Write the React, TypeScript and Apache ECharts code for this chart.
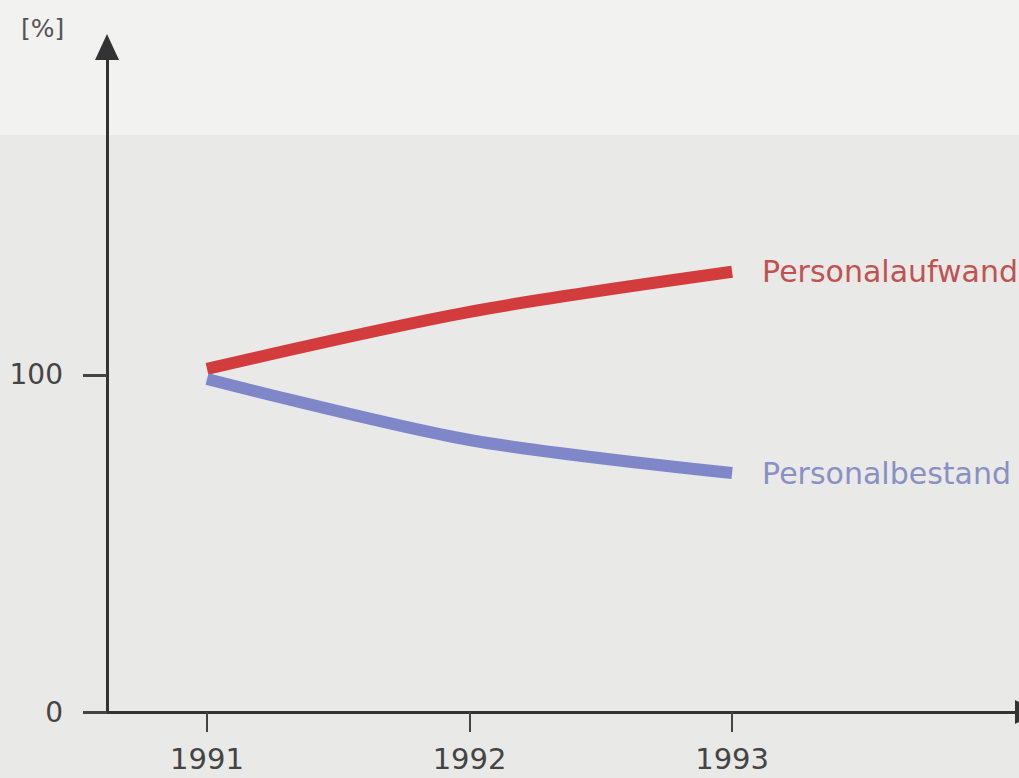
import React, { useEffect, useRef } from "react";
import * as echarts from "echarts";

const years = [1991, 1992, 1993];
const personalaufwand = [101.8, 118.7, 130.6];
const personalbestand = [98.8, 80.7, 70.9];
const yTickValues = [0, 100];
const seriesNames = ["Personalaufwand", "Personalbestand"];

export default function App() {
  const ref = useRef<HTMLDivElement>(null);
  useEffect(() => {
    if (!ref.current) return;
    const chart = echarts.init(ref.current, null, { renderer: "svg" });
    const font = "DejaVu Sans";
    chart.setOption({
      animation: false,
      backgroundColor: "#e9e9e7",
      graphic: [
        { type: "rect", left: 0, top: 0, shape: { width: 1040, height: 135 }, style: { fill: "#f2f2f0" }, z: -10 },
        { type: "text", left: 21, top: 16, style: { text: "[%]", fontSize: 25, fill: "#555", fontFamily: font } },
      ],
      grid: { left: 107, right: 0, top: 47, bottom: 66, containLabel: false },
      xAxis: {
        type: "value",
        min: 1990.619,
        max: 1994.127,
        splitLine: { show: false },
        axisLine: { show: true, lineStyle: { color: "#333", width: 3 }, symbol: ["none", "triangle"], symbolSize: [24, 26] },
        axisTick: { show: true, customValues: years, length: 20, lineStyle: { color: "#444", width: 2 } },
        axisLabel: { customValues: years, margin: 32, fontSize: 29, color: "#444", fontFamily: font, formatter: (v: number) => String(v) },
      },
      yAxis: {
        type: "value",
        min: 0,
        max: 197.3,
        splitLine: { show: false },
        axisLine: { show: true, lineStyle: { color: "#333", width: 3 }, symbol: ["none", "triangle"], symbolSize: [24, 26] },
        axisTick: { show: true, customValues: yTickValues, length: 24, lineStyle: { color: "#444", width: 3 } },
        axisLabel: { customValues: yTickValues, margin: 44, fontSize: 28, color: "#444", fontFamily: font },
      },
      series: [
        {
          name: seriesNames[0],
          type: "line",
          data: years.map((y, i) => [y, personalaufwand[i]]),
          smooth: 0.3,
          showSymbol: false,
          lineStyle: { color: "#d23c3c", width: 12, cap: "butt" },
          endLabel: { show: true, formatter: "{a}", distance: 30, fontSize: 30, color: "#c25252", fontFamily: font },
        },
        {
          name: seriesNames[1],
          type: "line",
          data: years.map((y, i) => [y, personalbestand[i]]),
          smooth: 0.3,
          showSymbol: false,
          lineStyle: { color: "#7f87c9", width: 12, cap: "butt" },
          endLabel: { show: true, formatter: "{a}", distance: 30, fontSize: 30, color: "#8a90c4", fontFamily: font },
        },
      ],
    });
    return () => chart.dispose();
  }, []);
  return <div ref={ref} style={{ width: 1028, height: 778, position: "fixed", left: 0, top: 0 }} />;
}
